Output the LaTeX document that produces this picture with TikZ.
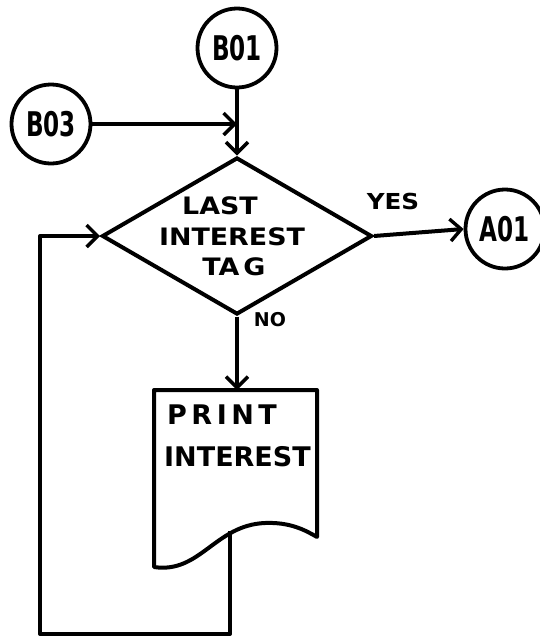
\documentclass[tikz,border=0pt]{standalone}
\usepackage{fontspec}
\setmainfont{DejaVu Sans}
\newfontfamily\handwide[FakeStretch=1.12]{DejaVu Sans Bold}
\newfontfamily\handmid[FakeStretch=1.0]{DejaVu Sans Bold}
\newfontfamily\handnarrow[FakeStretch=0.68]{DejaVu Sans Bold}
\usetikzlibrary{arrows.meta,shapes.geometric}
\begin{document}
\begin{tikzpicture}[x=1pt,y=-1pt,
  plain/.style={line width=4pt, line join=round},
  conn/.style={line width=4pt, line join=round, -{Straight Barb[length=11pt,width=22pt,line width=3.4pt]}},
  conncirc/.style={circle, draw, line width=3.8pt, minimum size=79pt, inner sep=0pt,
    font=\handnarrow\fontsize{34}{34}\selectfont},
  dtext/.style={inner sep=0pt, font=\handwide\fontsize{24}{24}\selectfont},
  doctext/.style={inner sep=0pt, anchor=west, font=\handmid\fontsize{27}{27}\selectfont},
  lbl/.style={inner sep=0pt, font=\handwide\fontsize{22}{22}\selectfont},
  lblsmall/.style={inner sep=0pt, font=\handmid\fontsize{19}{19}\selectfont},
  decision/.style={diamond, draw, line width=4pt, minimum width=270pt, minimum height=157pt, inner sep=0pt}]
\useasboundingbox[fill=white] (0,0) rectangle (540,638);

% connectors (circles)
\node[conncirc] (B01) at (237,48) {B01};
\node[conncirc] (B03) at (51,124) {B03};
\node[conncirc] (A01) at (505,229) {A01};

% decision
\node[decision] (dia) at (237,236) {};
\node[dtext] (t1) at (220,206) {LAST};
\node[dtext] (t2) at (232,237) {INTEREST};
\node[dtext] (t3) at (234,267) {TA\,G};

\node[lbl] (yes) at (393,201) {YES};
\node[lblsmall] (no) at (270,320) {NO};

% document shape
\coordinate (dtl) at (154,390);
\coordinate (dtr) at (317,390);
\coordinate (dtop) at (237,390);
\draw[plain] (dtl) -- (154,567) .. controls (200,574) and (215,525) .. (265,523)
  .. controls (290,522) and (305,530) .. (317,537) -- (dtr) -- cycle;
\node[doctext] (p1) at (167,415) {P\,R\,I\,N\,T};
\node[doctext] (p2) at (164,457) {INTEREST};

% flow lines
\coordinate (j) at (dia.north |- B03);
\draw[conn] (B01.south) -- (dia.north);
\draw[conn] (B03.east) -- (j);
\draw[conn] (dia.east) -- (A01.west);
\draw[conn] (dia.south) -- (dtop);

\coordinate (dout) at (230,531);
\coordinate (lb) at (230,634);
\coordinate (ll) at (40,634);
\draw[conn] (dout) -- (lb) -- (ll) -- (ll |- dia.west) -- (dia.west);
\end{tikzpicture}
\end{document}
